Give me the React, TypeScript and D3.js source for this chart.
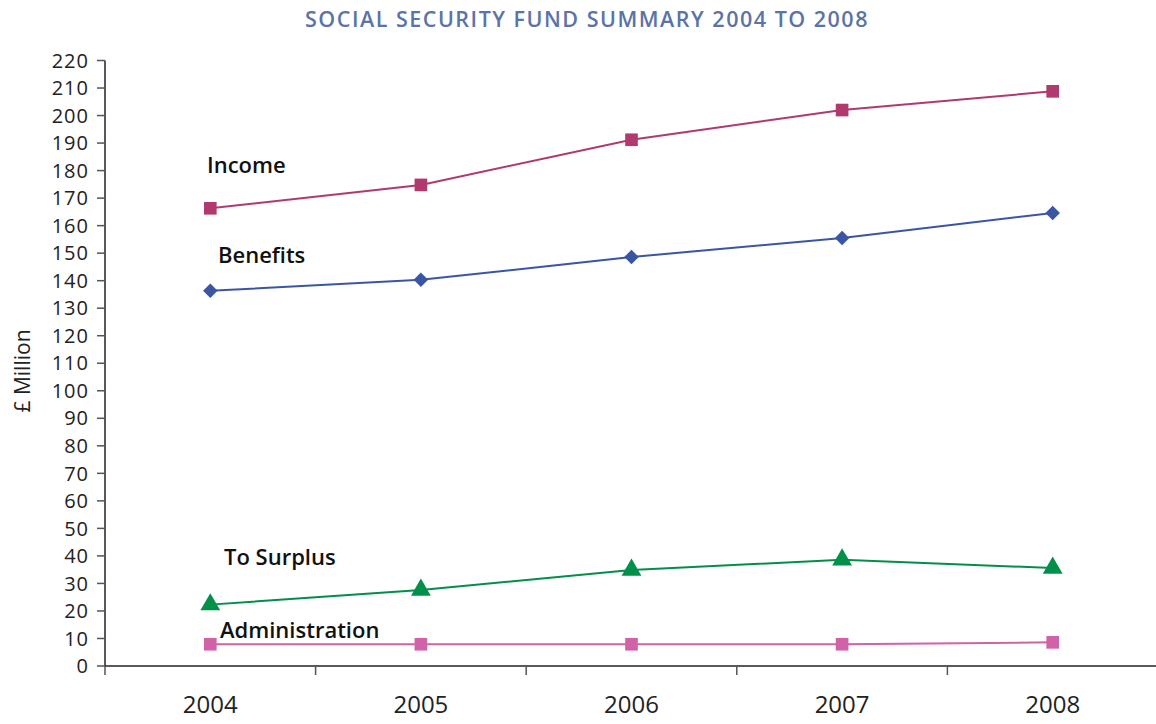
import React from "react";
import * as d3 from "d3";

const years = ["2004", "2005", "2006", "2007", "2008"];
const income = [166.3, 174.8, 191.2, 202, 208.8];
const benefits = [136.3, 140.3, 148.6, 155.5, 164.6];
const toSurplus = [22.3, 27.6, 34.9, 38.6, 35.6];
const administration = [7.9, 7.9, 7.9, 7.9, 8.6];
const yTicks = d3.range(0, 221, 10);

const W = 1156;
const H = 724;
const FONT = "'Open Sans', 'Noto Sans', sans-serif";

type Series = {
  name: string;
  values: number[];
  color: string;
  marker: "square" | "diamond" | "triangle";
  lx: number;
  ly: number;
};

const series: Series[] = [
  { name: "Income", values: income, color: "#b0396e", marker: "square", lx: 207, ly: 173 },
  { name: "Benefits", values: benefits, color: "#3a55a4", marker: "diamond", lx: 218, ly: 263 },
  { name: "To Surplus", values: toSurplus, color: "#00904a", marker: "triangle", lx: 224, ly: 565 },
  { name: "Administration", values: administration, color: "#d062a8", marker: "square", lx: 220, ly: 638 },
];

export default function App() {
  const x = d3.scaleBand<string>().domain(years).range([105, 1158]).padding(0);
  const y = d3.scaleLinear().domain([0, 220]).range([666, 60.5]);
  const cx = (d: string) => (x(d) as number) + x.bandwidth() / 2;

  const line = d3
    .line<number>()
    .x((_, i) => cx(years[i]))
    .y((v) => y(v));

  const sq = d3.symbol().type(d3.symbolSquare).size(160)() as string;
  const dia = d3.symbol().type(d3.symbolSquare).size(105)() as string;
  const tri = d3.symbol().type(d3.symbolTriangle).size(170)() as string;
  const markerPath = (m: string) => (m === "square" ? sq : m === "diamond" ? dia : tri);

  const boundaries = years.map((d) => x(d) as number);

  return (
    <svg
      width={W}
      height={H}
      style={{ position: "absolute", left: 0, top: 0, background: "#fff" }}
      fontFamily={FONT}
    >
      <text
        x={587}
        y={27}
        textAnchor="middle"
        fontSize={21.5}
        fontWeight={600}
        letterSpacing={1.5}
        fill="#5b73a8"
      >
        SOCIAL SECURITY FUND SUMMARY 2004 TO 2008
      </text>

      {/* y axis */}
      <line x1={105} x2={105} y1={y(220)} y2={y(0)} stroke="#222" strokeWidth={1.5} />
      {yTicks.map((t) => (
        <g key={t}>
          <line x1={97} x2={105} y1={y(t)} y2={y(t)} stroke="#555" strokeWidth={1.5} />
          <text
            x={89}
            y={y(t)}
            dy="0.36em"
            textAnchor="end"
            fontSize={20}
            letterSpacing={1}
            fill="#222"
          >
            {t}
          </text>
        </g>
      ))}
      <text
        transform={`translate(30,${371}) rotate(-90)`}
        textAnchor="middle"
        fontSize={21}
        fill="#222"
      >
        £ Million
      </text>

      {/* x axis */}
      <line x1={105} x2={1156} y1={y(0)} y2={y(0)} stroke="#222" strokeWidth={1.5} />
      {boundaries.map((b, i) => (
        <line key={i} x1={b} x2={b} y1={y(0)} y2={y(0) + 9} stroke="#555" strokeWidth={1.5} />
      ))}
      {years.map((d) => (
        <text key={d} x={cx(d)} y={713} textAnchor="middle" fontSize={24} fill="#222">
          {d}
        </text>
      ))}

      {series.map((s) => (
        <g key={s.name}>
          <path d={line(s.values) as string} fill="none" stroke={s.color} strokeWidth={2} />
          {s.values.map((v, i) => (
            <path
              key={i}
              d={markerPath(s.marker)}
              transform={`translate(${cx(years[i])},${y(v)})${s.marker === "diamond" ? " rotate(45)" : ""}`}
              fill={s.color}
            />
          ))}
          <text x={s.lx} y={s.ly} fontSize={22} fontWeight={600} fill="#111">
            {s.name}
          </text>
        </g>
      ))}
    </svg>
  );
}
